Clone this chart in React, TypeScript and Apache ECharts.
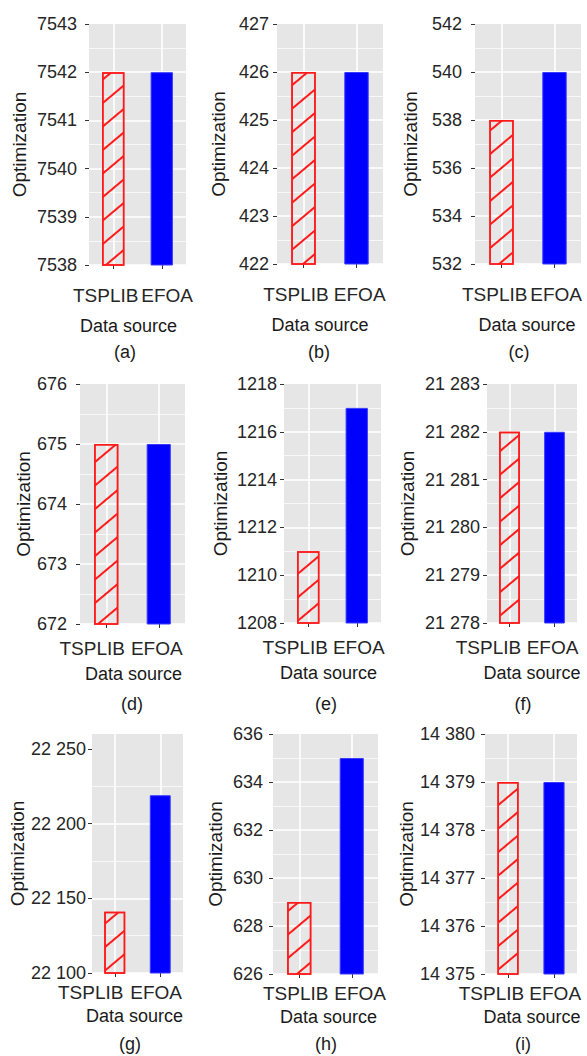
import React, { useEffect, useRef } from 'react';
import * as echarts from 'echarts';

// ---------- data ----------
const panelNames = ['(a)', '(b)', '(c)', '(d)', '(e)', '(f)', '(g)', '(h)', '(i)'];
const categories = ['TSPLIB', 'EFOA'];
const tsplibValues = [7542, 426, 538, 675, 1211, 21282, 22141, 629, 14379];
const efoaValues = [7542, 426, 540, 675, 1217, 21282, 22219, 635, 14379];
const yMin = [7538, 422, 532, 672, 1208, 21278, 22100, 626, 14375];
const yMax = [7543, 427, 542, 676, 1218, 21283, 22260, 636, 14380];
const yStep = [1, 1, 2, 1, 2, 1, 50, 2, 1];
const yTicks = [
  [7538, 7539, 7540, 7541, 7542, 7543],
  [422, 423, 424, 425, 426, 427],
  [532, 534, 536, 538, 540, 542],
  [672, 673, 674, 675, 676],
  [1208, 1210, 1212, 1214, 1216, 1218],
  [21278, 21279, 21280, 21281, 21282, 21283],
  [22100, 22150, 22200, 22250],
  [626, 628, 630, 632, 634, 636],
  [14375, 14376, 14377, 14378, 14379, 14380],
];
const xTitle = 'Data source';
const yTitle = 'Optimization';

// ---------- layout (positions / styles only) ----------
const panelLayout = [
  { left: 89, top: 24, width: 97, height: 241, lblMargin: 12, yGap: 60, catShift: [-7.5, 5.4], nameShift: -9, px: 125 },
  { left: 277, top: 24, width: 106, height: 240, lblMargin: 8, yGap: 49, catShift: [-7.5, 3.2], nameShift: -10, px: 319 },
  { left: 475, top: 24, width: 106, height: 240, lblMargin: 13, yGap: 55, catShift: [-6.8, 1.6], nameShift: -1, px: 519 },
  { left: 80, top: 384, width: 105, height: 240, lblMargin: 13, yGap: 47, catShift: [-14, -2], nameShift: 1, px: 132 },
  { left: 284, top: 384, width: 97, height: 239, lblMargin: 7, yGap: 54, catShift: [-13, 2], nameShift: -4, px: 326 },
  { left: 487, top: 384, width: 90, height: 239, lblMargin: 7, yGap: 70, catShift: [-21, -2], nameShift: 0, px: 523 },
  { left: 92, top: 734, width: 91, height: 239, lblMargin: 6, yGap: 65, catShift: [-24, -4.1], nameShift: -3, px: 130 },
  { left: 273, top: 734, width: 105, height: 240, lblMargin: 10, yGap: 48, catShift: [-3.5, 8.4], nameShift: 3, px: 326 },
  { left: 485, top: 734, width: 92, height: 240, lblMargin: 10, yGap: 68, catShift: [-16.5, 1.2], nameShift: 1, px: 523 },
];
const rowLayout = [
  { xMargin: 21, xGap: 52, labelY: 352 },
  { xMargin: 15, xGap: 41, labelY: 704 },
  { xMargin: 10, xGap: 34, labelY: 1044 },
];

const FONT = "'Liberation Sans', Arial, Helvetica, sans-serif";
const PANEL_BG = '#E6E6E6';

function fmt(v: number): string {
  const s = String(Math.round(v));
  return v >= 10000 ? s.replace(/\B(?=(\d{3})+(?!\d))/g, ' ') : s;
}

function padFor(shift: number): number[] {
  return shift < 0 ? [0, -2 * shift, 0, 0] : [0, 0, 0, 2 * shift];
}

function buildOption() {
  const grid: any[] = [];
  const xAxis: any[] = [];
  const yAxis: any[] = [];
  const series: any[] = [];
  const graphic: any[] = [];

  panelLayout.forEach((p, i) => {
    const row = rowLayout[Math.floor(i / 3)];
    grid.push({
      left: p.left,
      top: p.top,
      width: p.width,
      height: p.height,
      show: true,
      backgroundColor: PANEL_BG,
      borderWidth: 0,
      containLabel: false,
    });
    xAxis.push({
      type: 'category',
      gridIndex: i,
      data: categories,
      boundaryGap: true,
      name: xTitle,
      nameLocation: 'middle',
      nameGap: row.xGap,
      nameTextStyle: {
        fontFamily: FONT,
        fontSize: 18,
        color: '#1a1a1a',
        padding: padFor(p.nameShift),
      },
      axisLine: { show: false },
      axisTick: { show: true, alignWithLabel: true, length: 4, lineStyle: { color: '#333', width: 1 } },
      splitLine: { show: true, alignWithLabel: true, lineStyle: { color: '#ffffff', width: 1.6 } },
      axisLabel: {
        interval: 0,
        hideOverlap: false,
        margin: row.xMargin,
        fontFamily: FONT,
        fontSize: 19,
        color: '#262626',
        formatter: (v: string) => (v === categories[0] ? '{t|' + v + '}' : '{e|' + v + '}'),
        rich: {
          t: { fontFamily: FONT, fontSize: 19, color: '#262626', padding: padFor(p.catShift[0]) },
          e: { fontFamily: FONT, fontSize: 19, color: '#262626', padding: padFor(p.catShift[1]) },
        },
      },
    });
    yAxis.push({
      type: 'value',
      gridIndex: i,
      min: yMin[i],
      max: yMax[i],
      interval: yStep[i],
      name: yTitle,
      nameLocation: 'middle',
      nameGap: p.yGap,
      nameTextStyle: { fontFamily: FONT, fontSize: 19, color: '#1a1a1a' },
      axisLine: { show: false },
      axisTick: { show: true, length: 4, lineStyle: { color: '#333', width: 1 }, customValues: yTicks[i] },
      axisLabel: {
        margin: p.lblMargin,
        fontFamily: FONT,
        fontSize: 18,
        color: '#262626',
        customValues: yTicks[i],
        formatter: (v: number) => fmt(v),
      },
      splitLine: { show: true, showMaxLine: false, lineStyle: { color: '#ffffff', width: 1.6 } },
      minorTick: { show: false, splitNumber: 2 },
      minorSplitLine: { show: true, lineStyle: { color: '#ffffff', width: 0.7 } },
    });
    series.push({
      type: 'bar',
      xAxisIndex: i,
      yAxisIndex: i,
      barWidth: '46%',
      data: [
        {
          value: tsplibValues[i],
          itemStyle: {
            color: 'rgba(0,0,0,0)',
            borderColor: '#FF1A1A',
            borderWidth: 1.5,
            decal: {
              symbol: 'rect',
              symbolSize: 1,
              color: '#FF1A1A',
              backgroundColor: 'rgba(0,0,0,0)',
              dashArrayX: [1, 0],
              dashArrayY: [1.6, 16],
              rotation: (-40 * Math.PI) / 180,
            },
          },
        },
        {
          value: efoaValues[i],
          itemStyle: { color: '#0000FF', borderColor: '#3A3AFF', borderWidth: 1 },
        },
      ],
    });
    graphic.push({
      type: 'text',
      x: p.px,
      y: row.labelY,
      style: {
        text: panelNames[i],
        fontFamily: FONT,
        fontSize: 18,
        fill: '#1a1a1a',
        align: 'center',
        verticalAlign: 'middle',
      },
    });
  });

  return {
    animation: false,
    backgroundColor: '#ffffff',
    grid,
    xAxis,
    yAxis,
    series,
    graphic,
  };
}

export default function App() {
  const ref = useRef<HTMLDivElement>(null);
  useEffect(() => {
    if (!ref.current) return;
    const chart = echarts.init(ref.current, undefined, { renderer: 'svg' });
    chart.setOption(buildOption() as any);
    return () => chart.dispose();
  }, []);
  return (
    <div
      ref={ref}
      style={{ position: 'absolute', left: 0, top: 0, width: 587, height: 1056, background: '#fff' }}
    />
  );
}
